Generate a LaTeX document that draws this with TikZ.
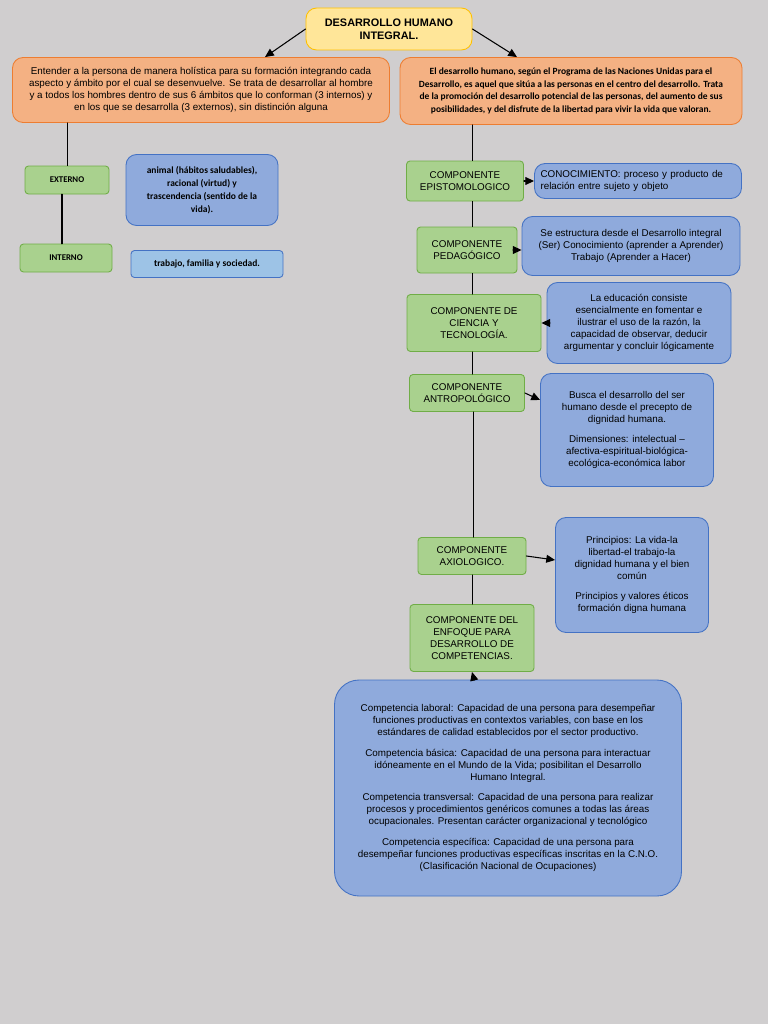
\documentclass[tikz,border=0pt]{standalone}
\usepackage{fontspec}
\setmainfont{Liberation Sans}
\newfontfamily\calib{Carlito}
\usetikzlibrary{arrows.meta}
\definecolor{bgray}{RGB}{208,206,207}
\definecolor{gfill}{RGB}{169,209,142}
\definecolor{gline}{RGB}{112,173,71}
\definecolor{bfill}{RGB}{143,170,220}
\definecolor{bline}{RGB}{68,114,196}
\definecolor{lbfill}{RGB}{157,195,230}
\definecolor{ofill}{RGB}{244,177,131}
\definecolor{oline}{RGB}{237,125,49}
\definecolor{yfill}{RGB}{255,230,153}
\definecolor{yline}{RGB}{255,192,0}
\begin{document}
\begin{tikzpicture}[line cap=round,line join=round,>={Triangle[length=5pt,width=4.5pt]},x=0.02cm,y=-0.02cm,
  box/.style={draw, rounded corners=6pt, line width=0.5pt, align=center, inner sep=1pt, font=\fontsize{5.6}{6.8}\selectfont},
  comp/.style={box, fill=gfill, draw=gline, rounded corners=2pt},
  info/.style={box, fill=bfill, draw=bline},
  nota/.style={box, fill=ofill, draw=oline},
  link/.style={->, line width=0.6pt}]
  \fill[bgray] (0,0) rectangle (768,1024);
  \useasboundingbox (0,0) rectangle (768,1024);

  \node[box, fill=yfill, draw=yline, minimum width=166*0.02cm, minimum height=42*0.02cm, font=\fontsize{6.2}{7.6}\selectfont\bfseries] (titulo) at (389,29) {DESARROLLO HUMANO\\INTEGRAL.};

  \node[nota, minimum width=377*0.02cm, minimum height=65*0.02cm] (holistica) at (201,90) {Entender a la persona de manera holística para su formación integrando cada\\aspecto y ámbito por el cual se desenvuelve. Se trata de desarrollar al hombre\\y a todos los hombres dentro de sus 6 ámbitos que lo conforman (3 internos) y\\en los que se desarrolla (3 externos), sin distinción alguna};
  \node[nota, minimum width=342*0.02cm, minimum height=67*0.02cm, font=\calib\bfseries\fontsize{5.4}{7.2}\selectfont] (pnud) at (571,91) {El desarrollo humano, según el Programa de las Naciones Unidas para el\\Desarrollo, es aquel que sitúa a las personas en el centro del desarrollo. Trata\\de la promoción del desarrollo potencial de las personas, del aumento de sus\\posibilidades, y del disfrute de la libertad para vivir la vida que valoran.};

  % lado izquierdo
  \node[comp, minimum width=84*0.02cm, minimum height=28*0.02cm, font=\calib\bfseries\fontsize{5}{6}\selectfont] (externo) at (67,180) {EXTERNO};
  \node[comp, minimum width=92*0.02cm, minimum height=28*0.02cm, font=\calib\bfseries\fontsize{5}{6}\selectfont] (interno) at (66,258) {INTERNO};
  \node[info, minimum width=152*0.02cm, minimum height=71*0.02cm, font=\calib\bfseries\fontsize{5.4}{7.4}\selectfont] (animal) at (202,190) {animal (hábitos saludables),\\racional (virtud) y\\trascendencia (sentido de la\\vida).};
  \node[box, fill=lbfill, draw=bline, rounded corners=2pt, minimum width=152*0.02cm, minimum height=27*0.02cm, font=\calib\bfseries\fontsize{5.4}{6.5}\selectfont] (trabajo) at (207,264) {trabajo, familia y sociedad.};

  % componentes
  \node[comp, minimum width=117*0.02cm, minimum height=40*0.02cm] (epist) at (465,181) {COMPONENTE\\EPISTOMOLOGICO};
  \node[comp, minimum width=100*0.02cm, minimum height=46*0.02cm] (pedag) at (467,250) {COMPONENTE\\PEDAGÓGICO};
  \node[comp, minimum width=134*0.02cm, minimum height=57*0.02cm] (ciencia) at (474,323) {COMPONENTE DE\\CIENCIA Y\\TECNOLOGÍA.};
  \node[comp, minimum width=115*0.02cm, minimum height=37*0.02cm] (antrop) at (467,393) {COMPONENTE\\ANTROPOLÓGICO};
  \node[comp, minimum width=108*0.02cm, minimum height=37*0.02cm] (axio) at (472,556) {COMPONENTE\\AXIOLOGICO.};
  \node[comp, minimum width=124*0.02cm, minimum height=67*0.02cm] (enfoque) at (472,638) {COMPONENTE DEL\\ENFOQUE PARA\\DESARROLLO DE\\COMPETENCIAS.};

  \node[info, minimum width=207*0.02cm, minimum height=35*0.02cm, text width=195*0.02cm, align=left] (conoc) at (638,181) {CONOCIMIENTO: proceso y producto de relación entre sujeto y objeto};
  \node[info, minimum width=218*0.02cm, minimum height=59*0.02cm] (estructura) at (631,246) {Se estructura desde el Desarrollo integral\\(Ser) Conocimiento (aprender a Aprender)\\Trabajo (Aprender a Hacer)};
  \node[info, minimum width=184*0.02cm, minimum height=81*0.02cm] (educacion) at (639,323) {La educación consiste\\esencialmente en fomentar e\\ilustrar el uso de la razón, la\\capacidad de observar, deducir\\argumentar y concluir lógicamente};
  \node[info, minimum width=173*0.02cm, minimum height=113*0.02cm] (busca) at (627,430) {Busca el desarrollo del ser\\humano desde el precepto de\\dignidad humana.\\[5pt]Dimensiones: intelectual --\\afectiva-espiritual-biológica-\\ecológica-económica labor};
  \node[info, minimum width=153*0.02cm, minimum height=115*0.02cm] (principios) at (632,575) {Principios: La vida-la\\libertad-el trabajo-la\\dignidad humana y el bien\\común\\[5pt]Principios y valores éticos\\formación digna humana};
  \node[info, rounded corners=14pt, minimum width=347*0.02cm, minimum height=216*0.02cm] (competencias) at (508,788) {Competencia laboral: Capacidad de una persona para desempeñar\\funciones productivas en contextos variables, con base en los\\estándares de calidad establecidos por el sector productivo.\\[5pt]Competencia básica: Capacidad de una persona para interactuar\\idóneamente en el Mundo de la Vida; posibilitan el Desarrollo\\Humano Integral.\\[5pt]Competencia transversal: Capacidad de una persona para realizar\\procesos y procedimientos genéricos comunes a todas las áreas\\ocupacionales. Presentan carácter organizacional y tecnológico\\[5pt]Competencia específica: Capacidad de una persona para\\desempeñar funciones productivas específicas inscritas en la C.N.O.\\(Clasificación Nacional de Ocupaciones)};

  % conectores
  \draw[link] (titulo.west) -- (holistica.north -| 265,0);
  \draw[link] (titulo.east) -- (pnud.north -| 517,0);
  \draw[line width=0.5pt] (holistica.south -| externo) -- (externo.north);
  \draw[line width=1pt] (externo.south -| 62,0) -- (interno.north -| 62,0);
  \draw[line width=0.5pt] (pnud.south -| 472,0) -- (epist.north -| 472,0);
  \draw[line width=0.5pt] (epist.south -| 472,0) -- (pedag.north -| 472,0);
  \draw[line width=0.5pt] (pedag.south -| 472,0) -- (ciencia.north -| 472,0);
  \draw[line width=0.5pt] (ciencia.south -| 472,0) -- (antrop.north -| 472,0);
  \draw[line width=0.5pt] (antrop.south -| 473,0) -- (axio.north -| 473,0);
  \draw[line width=0.5pt] (axio.south -| 472,0) -- (enfoque.north -| 472,0);
  \draw[link] (epist.east) -- (conoc.west);
  \draw[link] (pedag.east) -- (estructura.west |- pedag.east);
  \draw[link] (educacion.west) -- (ciencia.east);
  \draw[link] (antrop.east) -- (busca.west |- 0,400);
  \draw[link] (axio.east) -- (principios.west |- 0,560);
  \draw[link] (competencias.north -| 474,0) -- (enfoque.south);
\end{tikzpicture}
\end{document}
